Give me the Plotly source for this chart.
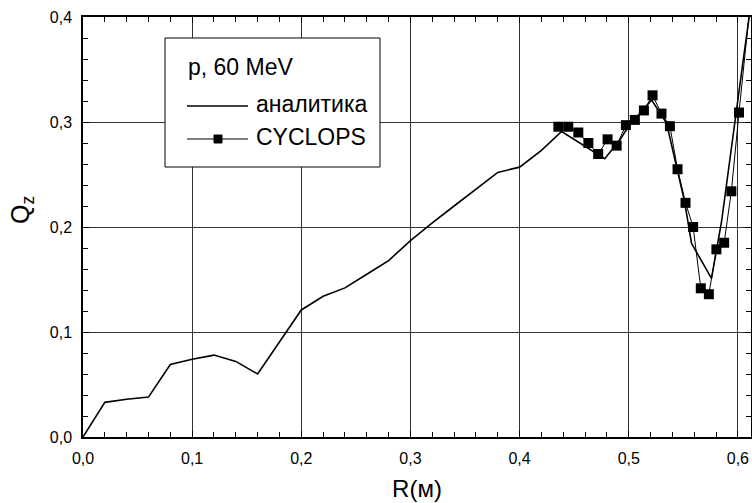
import plotly.graph_objects as go

# analytic curve
r_analytic = [0.0, 0.02, 0.04, 0.06, 0.08, 0.10, 0.12, 0.14, 0.16, 0.18, 0.20, 0.22,
              0.24, 0.26, 0.28, 0.30, 0.32, 0.34, 0.36, 0.38, 0.40, 0.42, 0.4385,
              0.478, 0.492, 0.4995, 0.51, 0.521, 0.5346, 0.551, 0.5575, 0.5758,
              0.585, 0.595, 0.605, 0.613]
q_analytic = [0.0, 0.033, 0.036, 0.038, 0.069, 0.074, 0.078, 0.072, 0.060, 0.090, 0.121, 0.134,
              0.142, 0.155, 0.168, 0.187, 0.204, 0.220, 0.236, 0.252, 0.257, 0.273, 0.291,
              0.265, 0.283, 0.2955, 0.308, 0.321, 0.299, 0.225, 0.1845, 0.151,
              0.205, 0.285, 0.36, 0.42]

# CYCLOPS points
r_cyclops = [0.4355, 0.4446, 0.4538, 0.463, 0.472, 0.4806, 0.4889, 0.4974, 0.5056, 0.5139,
             0.5218, 0.530, 0.5377, 0.5447, 0.552, 0.559, 0.566, 0.5734, 0.5803, 0.5874,
             0.594, 0.601, 0.613]
q_cyclops = [0.2955, 0.2955, 0.290, 0.280, 0.2695, 0.2835, 0.2775, 0.297, 0.302, 0.311,
             0.3254, 0.308, 0.296, 0.255, 0.223, 0.200, 0.1416, 0.136, 0.1787, 0.185,
             0.234, 0.309, 0.43]

x_ticks = [0.0, 0.1, 0.2, 0.3, 0.4, 0.5, 0.6]
x_tick_labels = ["0,0", "0,1", "0,2", "0,3", "0,4", "0,5", "0,6"]
y_ticks = [0.0, 0.1, 0.2, 0.3, 0.4]
y_tick_labels = ["0,0", "0,1", "0,2", "0,3", "0,4"]

legend_title = "p, 60 MeV"
name_analytic = "аналитика"
name_cyclops = "CYCLOPS"

FONT = "Liberation Sans, Arial, sans-serif"

W, H = 752, 503
ML, MR, MT, MB = 83, 1, 17, 66
PW, PH = W - ML - MR, H - MT - MB


def px(x):
    return (x - ML) / PW


def py(y):
    return (H - MB - y) / PH


fig = go.Figure()
fig.add_trace(go.Scatter(
    x=r_analytic, y=q_analytic, mode="lines", name=name_analytic,
    line=dict(color="black", width=1.6), showlegend=False,
))
fig.add_trace(go.Scatter(
    x=r_cyclops, y=q_cyclops, mode="lines+markers", name=name_cyclops,
    line=dict(color="black", width=1),
    marker=dict(symbol="square", size=10, color="black"), showlegend=False,
))

axis_common = dict(
    showline=True, linecolor="black", linewidth=1.5, mirror="allticks",
    ticks="inside", ticklen=6, tickcolor="black", tickwidth=1,
    showgrid=True, gridcolor="#333", gridwidth=1, zeroline=False,
    tickfont=dict(family=FONT, size=16, color="black"),
    automargin=False, ticklabelstandoff=6,
)

fig.update_xaxes(
    range=[0, 0.612], tickvals=x_ticks, ticktext=x_tick_labels,
    minor=dict(dtick=0.02, tick0=0, ticks="inside", ticklen=5, tickcolor="black", showgrid=False),
    title=dict(text="R(м)", font=dict(family=FONT, size=24, color="black"), standoff=14),
    **axis_common,
)
fig.update_yaxes(
    range=[0, 0.4], tickvals=y_ticks, ticktext=y_tick_labels,
    minor=dict(dtick=0.02, tick0=0, ticks="inside", ticklen=5, tickcolor="black", showgrid=False),
    **axis_common,
)

# y-axis title (rotated)
fig.add_annotation(
    xref="paper", yref="paper", x=px(22), y=py(210), showarrow=False,
    text="Q<sub>z</sub>", textangle=-90,
    font=dict(family=FONT, size=25, color="black"), xanchor="center", yanchor="middle",
)

# legend box (drawn manually to match the original layout)
lfont = dict(family=FONT, size=23, color="black")
fig.add_shape(type="rect", xref="paper", yref="paper",
              x0=px(165), x1=px(380), y0=py(167), y1=py(38),
              line=dict(color="black", width=1), fillcolor="white", layer="above")
fig.add_annotation(xref="paper", yref="paper", x=px(186), y=py(67), text=legend_title,
                   showarrow=False, xanchor="left", yanchor="middle", font=lfont)
fig.add_shape(type="line", xref="paper", yref="paper",
              x0=px(187), x1=px(248), y0=py(106), y1=py(106),
              line=dict(color="black", width=1.6), layer="above")
fig.add_annotation(xref="paper", yref="paper", x=px(254), y=py(104), text=name_analytic,
                   showarrow=False, xanchor="left", yanchor="middle", font=lfont)
fig.add_shape(type="line", xref="paper", yref="paper",
              x0=px(187), x1=px(248), y0=py(139), y1=py(139),
              line=dict(color="black", width=1), layer="above")
fig.add_shape(type="rect", xref="paper", yref="paper",
              x0=px(214), x1=px(222), y0=py(143), y1=py(135),
              line=dict(color="black", width=1), fillcolor="black", layer="above")
fig.add_annotation(xref="paper", yref="paper", x=px(254), y=py(137), text=name_cyclops,
                   showarrow=False, xanchor="left", yanchor="middle", font=lfont)

fig.update_layout(
    width=W, height=H,
    margin=dict(l=ML, r=MR, t=MT, b=MB),
    paper_bgcolor="white", plot_bgcolor="white",
    font=dict(family=FONT, color="black"),
    showlegend=False,
)

fig.write_html(
    "out.html",
    config={"displayModeBar": False},
    post_script="document.body.style.margin='0';document.body.style.overflow='hidden';",
)
